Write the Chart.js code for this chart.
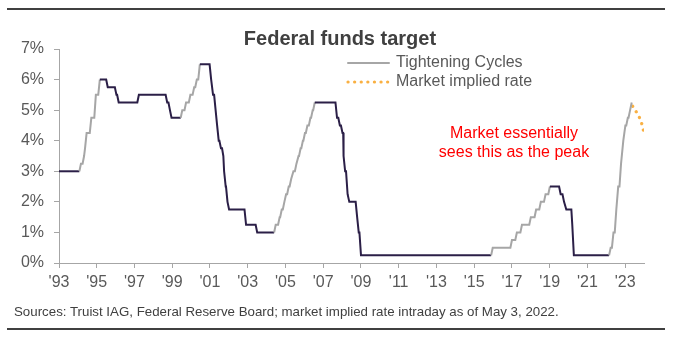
<!DOCTYPE html>
<html lang="en">
<head>
    <meta charset="UTF-8">
    <title>Federal funds target</title>
    <script src="https://cdn.jsdelivr.net/npm/chart.js"></script>
    <style>
        body { margin: 0; background: #fff; font-family: "Liberation Sans", Arial, sans-serif; }
        #wrap { position: relative; width: 674px; height: 337px; overflow: hidden; }
        #fedChart { position: absolute; left: 0; top: 0; }
        .rule { position: absolute; left: 7px; width: 658px; height: 2px; background: #404040; }
        #title { position: absolute; left: 3px; width: 674px; top: 28px; text-align: center;
                 font-size: 20px; line-height: 20px; font-weight: bold; color: #404040; }
        #source { position: absolute; left: 14px; top: 305px; font-size: 13.3px; line-height: 13px; color: #404040; white-space: nowrap; }
    </style>
</head>
<body>
<div id="wrap">
    <div class="rule" style="top:8px"></div>
    <canvas id="fedChart" width="674" height="337"></canvas>
    <div id="title">Federal funds target</div>
    <div id="source">Sources: Truist IAG, Federal Reserve Board; market implied rate intraday as of May 3, 2022.</div>
    <div class="rule" style="top:328px"></div>
</div>
<script>
    // Fed funds target (upper bound), dates where the target changed
    const changeDates = [1993.0, 1994.08, 1994.25, 1994.33, 1994.38, 1994.63, 1994.87, 1995.08, 1995.5, 1995.96,
        1996.08, 1997.15, 1998.65, 1998.8, 1998.88, 1999.45, 1999.65, 1999.88, 2000.08, 2000.22,
        2000.38, 2000.98, 2001.08, 2001.22, 2001.3, 2001.38, 2001.5, 2001.64, 2001.71, 2001.75,
        2001.85, 2001.93, 2002.83, 2003.42, 2004.4, 2004.61, 2004.72, 2004.86, 2004.95, 2005.09,
        2005.22, 2005.34, 2005.5, 2005.61, 2005.72, 2005.84, 2005.95, 2006.08, 2006.24, 2006.36,
        2006.47, 2007.65, 2007.8, 2007.94, 2008.06, 2008.08, 2008.21, 2008.3, 2008.72, 2008.8,
        2008.92, 2015.9, 2016.92, 2017.18, 2017.45, 2017.92, 2018.2, 2018.45, 2018.7, 2018.93,
        2019.5, 2019.68, 2019.8, 2020.15, 2020.2, 2022.15, 2022.3, 2022.45, 2022.55, 2022.7,
        2022.82, 2022.93, 2023.06, 2023.18, 2023.3];
    const targetRates = [3.0, 3.25, 3.5, 3.75, 4.25, 4.75, 5.5, 6.0, 5.75, 5.5,
        5.25, 5.5, 5.25, 5.0, 4.75, 5.0, 5.25, 5.5, 5.75, 6.0,
        6.5, 6.0, 5.5, 5.0, 4.5, 4.0, 3.75, 3.5, 3.0, 2.5,
        2.0, 1.75, 1.25, 1.0, 1.25, 1.5, 1.75, 2.0, 2.25, 2.5,
        2.75, 3.0, 3.25, 3.5, 3.75, 4.0, 4.25, 4.5, 4.75, 5.0,
        5.25, 4.75, 4.5, 4.25, 3.5, 3.0, 2.25, 2.0, 1.5, 1.0,
        0.25, 0.5, 0.75, 1.0, 1.25, 1.5, 1.75, 2.0, 2.25, 2.5,
        2.25, 2.0, 1.75, 1.25, 0.25, 0.5, 1.0, 1.75, 2.5, 3.25,
        4.0, 4.5, 4.75, 5.0, 5.25];
    const endDate = 2023.35;

    // Tightening cycles (start, end) in years
    const tighteningCycles = [[1994.0, 1995.15], [1999.4, 2000.45], [2004.35, 2006.55], [2015.85, 2019.0], [2022.1, 2023.4]];

    // Market implied path
    const impliedDates = [2023.33, 2023.45, 2023.67, 2023.83, 2023.94, 2024.0];
    const impliedRates = [5.22, 5.07, 4.87, 4.65, 4.42, 4.19];

    const tickYears = [1993, 1995, 1997, 1999, 2001, 2003, 2005, 2007, 2009, 2011, 2013, 2015, 2017, 2019, 2021, 2023];
    const yTicks = [0, 1, 2, 3, 4, 5, 6, 7];

    const NAVY = '#2b1f47';
    const GRAY = '#a6a6a6';
    const ORANGE = '#f9b042';
    const AXIS = '#a6a6a6';
    const LABEL = '#595959';
    const FONT = '"Liberation Sans", Arial, sans-serif';
    const MONTH = 1 / 12; // monthly series, so each move takes one month on the chart

    // hold the old rate until the change date, then move to the new one over a month
    const targetPoints = [];
    changeDates.forEach((d, i) => {
        if (i > 0) targetPoints.push({ x: d, y: targetRates[i - 1] });
        targetPoints.push({ x: i > 0 ? Math.min(d + MONTH, (changeDates[i + 1] || endDate) - 0.001) : d, y: targetRates[i] });
    });
    targetPoints.push({ x: endDate, y: targetRates[targetRates.length - 1] });

    const impliedPoints = impliedDates.map((d, i) => ({ x: d, y: impliedRates[i] }));

    function inCycle(x) {
        return tighteningCycles.some(c => x >= c[0] && x <= c[1]);
    }

    // legend + note drawn straight on the canvas
    const notesPlugin = {
        id: 'notes',
        afterDraw(chart) {
            const ctx = chart.ctx;
            ctx.save();
            ctx.font = '16px ' + FONT;
            ctx.textBaseline = 'middle';
            chart.data.datasets.forEach((ds, i) => {
                const y = 63 + i * 19;
                ctx.strokeStyle = ds.borderColor;
                ctx.lineWidth = ds.borderWidth;
                ctx.lineCap = 'round';
                ctx.setLineDash(ds.borderDash || []);
                ctx.beginPath();
                ctx.moveTo(348, y);
                ctx.lineTo(389, y);
                ctx.stroke();
                ctx.setLineDash([]);
                ctx.fillStyle = LABEL;
                ctx.textAlign = 'left';
                ctx.fillText(ds.label, 396, y);
            });
            ctx.fillStyle = '#ff0000';
            ctx.textAlign = 'center';
            ctx.fillText('Market essentially', 514, 134);
            ctx.fillText('sees this as the peak', 514, 153);
            ctx.restore();
        }
    };

    new Chart(document.getElementById('fedChart'), {
        type: 'line',
        data: {
            datasets: [{
                label: 'Tightening Cycles',
                data: targetPoints,
                borderColor: GRAY,
                borderWidth: 2,
                pointRadius: 0,
                tension: 0,
                segment: {
                    borderColor: ctx => inCycle((ctx.p0.parsed.x + ctx.p1.parsed.x) / 2) ? GRAY : NAVY
                }
            }, {
                label: 'Market implied rate',
                data: impliedPoints,
                borderColor: ORANGE,
                borderWidth: 3.2,
                borderDash: [0.1, 6.5],
                borderDashOffset: -3,
                borderCapStyle: 'round',
                pointRadius: 0,
                tension: 0.3
            }]
        },
        options: {
            responsive: false,
            animation: false,
            parsing: false,
            layout: { padding: { top: 49, right: 30, left: 0, bottom: 0 } },
            plugins: {
                legend: { display: false },
                tooltip: { enabled: false }
            },
            scales: {
                x: {
                    type: 'linear',
                    min: 1993,
                    max: 2024,
                    afterFit: s => { s.height = 74; },
                    afterBuildTicks: s => { s.ticks = tickYears.map(v => ({ value: v })); },
                    grid: { drawOnChartArea: false, drawTicks: true, tickLength: 5, color: AXIS },
                    border: { color: AXIS, width: 1 },
                    ticks: {
                        autoSkip: false,
                        maxRotation: 0,
                        padding: 5,
                        color: LABEL,
                        font: { family: FONT, size: 16 },
                        callback: v => "'" + String(v).slice(2)
                    }
                },
                y: {
                    min: 0,
                    max: 7,
                    afterFit: s => { s.width = 59; },
                    afterBuildTicks: s => { s.ticks = yTicks.map(v => ({ value: v })); },
                    grid: { drawOnChartArea: false, drawTicks: true, tickLength: 5, color: AXIS },
                    border: { color: AXIS, width: 1 },
                    ticks: {
                        padding: 10,
                        color: LABEL,
                        font: { family: FONT, size: 16 },
                        callback: v => v + '%'
                    }
                }
            }
        },
        plugins: [notesPlugin]
    });
</script>
</body>
</html>
